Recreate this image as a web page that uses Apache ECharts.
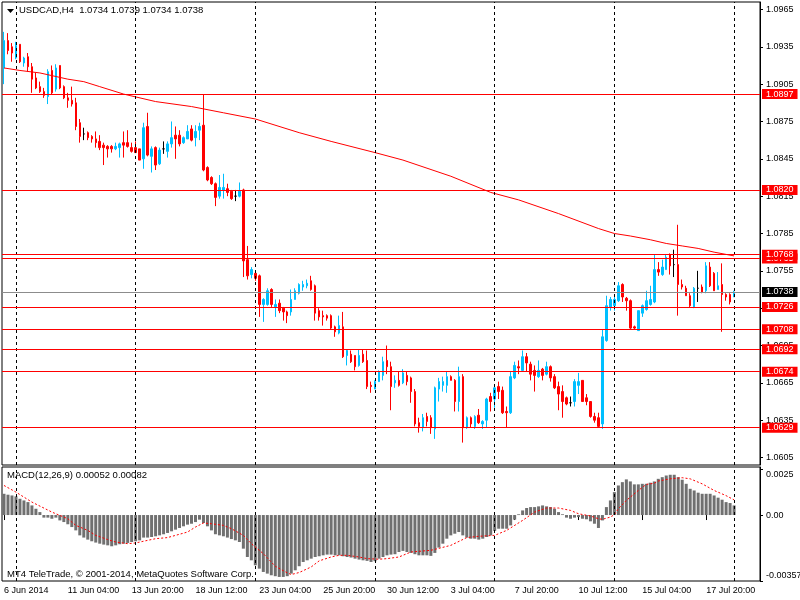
<!DOCTYPE html>
<html>
<head>
<meta charset="utf-8">
<script src="https://cdn.jsdelivr.net/npm/echarts@6/dist/echarts.min.js"></script>
<style>
  html, body { margin: 0; padding: 0; background: #fff; }
  #chart { width: 800px; height: 600px; }
</style>
</head>
<body>
<div id="chart"></div>
<script>
// --- data ---

// one row per H4 bar, first bar 6 Jun 12:00: [open, close, low, high]
const candles = [
  [1.0918,1.0940,1.0905,1.0947],[1.0940,1.0932,1.0929,1.0946],[1.0935,1.0930,1.0923,1.0938],[1.0926,1.0936,1.0925,1.0939],
  [1.0937,1.0923,1.0922,1.0937],[1.0922,1.0926,1.0919,1.0927],[1.0927,1.0919,1.0915,1.0930],[1.0919,1.0909,1.0898,1.0922],
  [1.0910,1.0902,1.0901,1.0914],[1.0903,1.0899,1.0898,1.0907],[1.0899,1.0896,1.0894,1.0902],[1.0895,1.0915,1.0889,1.0917],
  [1.0916,1.0898,1.0897,1.0920],[1.0901,1.0918,1.0899,1.0921],[1.0920,1.0902,1.0901,1.0920],[1.0903,1.0894,1.0893,1.0904],
  [1.0894,1.0892,1.0886,1.0898],[1.0892,1.0889,1.0887,1.0903],[1.0890,1.0871,1.0868,1.0894],[1.0874,1.0863,1.0858,1.0877],
  [1.0865,1.0865,1.0860,1.0870],[1.0866,1.0862,1.0860,1.0867],[1.0863,1.0861,1.0858,1.0864],[1.0861,1.0858,1.0854,1.0867],
  [1.0859,1.0854,1.0852,1.0864],[1.0856,1.0854,1.0840,1.0858],[1.0855,1.0853,1.0846,1.0856],[1.0855,1.0853,1.0850,1.0856],
  [1.0853,1.0855,1.0852,1.0858],[1.0854,1.0857,1.0846,1.0858],[1.0858,1.0856,1.0846,1.0867],[1.0858,1.0855,1.0854,1.0868],
  [1.0854,1.0851,1.0850,1.0858],[1.0854,1.0850,1.0850,1.0859],[1.0853,1.0844,1.0844,1.0853],[1.0845,1.0870,1.0837,1.0874],
  [1.0871,1.0848,1.0847,1.0882],[1.0847,1.0853,1.0834,1.0855],[1.0854,1.0840,1.0836,1.0855],[1.0841,1.0852,1.0840,1.0854],
  [1.0853,1.0853,1.0849,1.0859],[1.0851,1.0857,1.0846,1.0859],[1.0857,1.0862,1.0854,1.0875],[1.0864,1.0861,1.0845,1.0871],
  [1.0864,1.0857,1.0855,1.0868],[1.0858,1.0862,1.0857,1.0863],[1.0861,1.0867,1.0861,1.0872],[1.0869,1.0860,1.0859,1.0872],
  [1.0862,1.0867,1.0855,1.0872],[1.0868,1.0871,1.0860,1.0874],[1.0872,1.0836,1.0835,1.0897],[1.0838,1.0828,1.0827,1.0839],
  [1.0830,1.0825,1.0824,1.0831],[1.0825,1.0814,1.0807,1.0826],[1.0815,1.0822,1.0813,1.0832],[1.0820,1.0822,1.0813,1.0833],
  [1.0821,1.0818,1.0815,1.0825],[1.0819,1.0813,1.0812,1.0820],[1.0815,1.0815,1.0811,1.0820],[1.0815,1.0819,1.0814,1.0826],
  [1.0820,1.0763,1.0750,1.0821],[1.0764,1.0751,1.0748,1.0775],[1.0752,1.0756,1.0749,1.0758],[1.0753,1.0749,1.0747,1.0754],
  [1.0751,1.0728,1.0718,1.0752],[1.0728,1.0732,1.0714,1.0733],[1.0728,1.0739,1.0727,1.0741],[1.0740,1.0728,1.0726,1.0741],
  [1.0726,1.0728,1.0718,1.0732],[1.0729,1.0723,1.0721,1.0732],[1.0725,1.0722,1.0715,1.0726],[1.0722,1.0719,1.0713,1.0723],
  [1.0722,1.0732,1.0719,1.0740],[1.0732,1.0739,1.0732,1.0741],[1.0737,1.0744,1.0736,1.0745],[1.0742,1.0744,1.0739,1.0747],
  [1.0743,1.0745,1.0741,1.0748],[1.0747,1.0740,1.0739,1.0751],[1.0743,1.0721,1.0715,1.0744],[1.0723,1.0718,1.0715,1.0725],
  [1.0719,1.0718,1.0711,1.0723],[1.0719,1.0717,1.0715,1.0720],[1.0719,1.0709,1.0708,1.0720],[1.0710,1.0706,1.0702,1.0711],
  [1.0705,1.0711,1.0704,1.0719],[1.0710,1.0686,1.0685,1.0722],[1.0687,1.0691,1.0679,1.0692],[1.0688,1.0682,1.0681,1.0691],
  [1.0687,1.0678,1.0675,1.0687],[1.0679,1.0687,1.0678,1.0692],[1.0688,1.0682,1.0681,1.0692],[1.0683,1.0662,1.0660,1.0691],
  [1.0663,1.0662,1.0657,1.0666],[1.0660,1.0666,1.0660,1.0667],[1.0666,1.0674,1.0666,1.0675],[1.0671,1.0682,1.0667,1.0686],
  [1.0683,1.0678,1.0672,1.0695],[1.0678,1.0662,1.0643,1.0682],[1.0665,1.0667,1.0661,1.0671],[1.0667,1.0663,1.0662,1.0674],
  [1.0665,1.0673,1.0664,1.0676],[1.0671,1.0666,1.0663,1.0674],[1.0669,1.0658,1.0649,1.0670],[1.0658,1.0632,1.0630,1.0660],
  [1.0633,1.0630,1.0625,1.0637],[1.0629,1.0637,1.0626,1.0640],[1.0638,1.0634,1.0630,1.0641],[1.0637,1.0629,1.0624,1.0639],
  [1.0628,1.0661,1.0620,1.0662],[1.0660,1.0666,1.0650,1.0669],[1.0663,1.0666,1.0658,1.0670],[1.0663,1.0670,1.0657,1.0674],
  [1.0670,1.0667,1.0667,1.0671],[1.0667,1.0650,1.0642,1.0668],[1.0650,1.0670,1.0642,1.0678],[1.0670,1.0629,1.0617,1.0672],
  [1.0629,1.0637,1.0628,1.0638],[1.0637,1.0632,1.0629,1.0638],[1.0630,1.0638,1.0628,1.0639],[1.0639,1.0633,1.0632,1.0644],
  [1.0632,1.0634,1.0628,1.0635],[1.0635,1.0652,1.0629,1.0653],[1.0654,1.0650,1.0642,1.0657],[1.0652,1.0661,1.0645,1.0662],
  [1.0662,1.0658,1.0652,1.0666],[1.0659,1.0641,1.0640,1.0662],[1.0642,1.0641,1.0629,1.0646],[1.0641,1.0670,1.0640,1.0674],
  [1.0669,1.0679,1.0668,1.0682],[1.0678,1.0677,1.0672,1.0683],[1.0675,1.0686,1.0675,1.0691],[1.0686,1.0681,1.0674,1.0689],
  [1.0680,1.0672,1.0667,1.0682],[1.0675,1.0671,1.0658,1.0679],[1.0670,1.0675,1.0669,1.0683],[1.0676,1.0671,1.0667,1.0677],
  [1.0672,1.0678,1.0671,1.0682],[1.0678,1.0669,1.0666,1.0679],[1.0670,1.0661,1.0660,1.0672],[1.0662,1.0656,1.0643,1.0666],
  [1.0658,1.0650,1.0637,1.0663],[1.0653,1.0648,1.0647,1.0654],[1.0649,1.0649,1.0646,1.0654],[1.0650,1.0666,1.0646,1.0668],
  [1.0663,1.0666,1.0656,1.0673],[1.0667,1.0650,1.0650,1.0667],[1.0653,1.0650,1.0647,1.0656],[1.0650,1.0638,1.0637,1.0650],
  [1.0638,1.0635,1.0633,1.0641],[1.0637,1.0630,1.0629,1.0641],[1.0632,1.0702,1.0628,1.0708],[1.0699,1.0727,1.0698,1.0735],
  [1.0726,1.0732,1.0723,1.0734],[1.0727,1.0732,1.0723,1.0734],[1.0731,1.0743,1.0730,1.0746],[1.0744,1.0734,1.0730,1.0745],
  [1.0733,1.0731,1.0723,1.0734],[1.0731,1.0709,1.0708,1.0732],[1.0710,1.0709,1.0708,1.0711],[1.0707,1.0723,1.0707,1.0723],
  [1.0721,1.0727,1.0718,1.0728],[1.0724,1.0731,1.0723,1.0739],[1.0728,1.0732,1.0727,1.0743],[1.0730,1.0756,1.0729,1.0768],
  [1.0756,1.0754,1.0751,1.0762],[1.0752,1.0758,1.0751,1.0764],[1.0756,1.0766,1.0756,1.0768],[1.0768,1.0759,1.0752,1.0769],
  [1.0760,1.0760,1.0750,1.0772],[1.0760,1.0744,1.0719,1.0792],[1.0744,1.0742,1.0740,1.0748],[1.0741,1.0735,1.0735,1.0743],
  [1.0735,1.0727,1.0726,1.0737],[1.0726,1.0741,1.0725,1.0742],[1.0741,1.0741,1.0730,1.0755],[1.0742,1.0738,1.0737,1.0744],
  [1.0739,1.0759,1.0737,1.0762],[1.0758,1.0743,1.0742,1.0762],[1.0753,1.0739,1.0739,1.0754],[1.0740,1.0743,1.0740,1.0754],
  [1.0744,1.0736,1.0706,1.0761],[1.0736,1.0734,1.0731,1.0737],[1.0736,1.0730,1.0728,1.0737],[1.0734,1.0738,1.0734,1.0739]
];

// red moving average, read at some bars: [bar, price]
const maLine = [
  [0,1.0918],[4,1.0916],[9,1.0914],[16,1.0909],[20,1.0907],[24,1.0903],[30,1.0897],[38,1.0891],[47,1.0887],
  [55,1.0882],[63,1.0877],[74,1.0866],[82,1.0859],[93,1.0850],[100,1.0844],[112,1.0831],[122,1.0818],[129,1.0812],
  [139,1.0801],[149,1.0789],[153,1.0785],[157,1.0783],[162,1.0780],[166,1.0777],[170,1.0775],[174,1.0773],[178,1.0770],[183,1.0767]
];

// MACD(12,26,9) histogram, one value per bar
const macdHist = [
  0.00115,0.00110,0.00106,0.00101,0.00088,0.00079,0.00070,0.00052,0.00034,0.00016,
  -0.00014,-0.00014,-0.00020,-0.00014,-0.00029,-0.00038,-0.00050,-0.00065,-0.00083,-0.00110,
  -0.00122,-0.00133,-0.00142,-0.00149,-0.00155,-0.00160,-0.00164,-0.00169,-0.00164,-0.00158,
  -0.00155,-0.00151,-0.00146,-0.00142,-0.00137,-0.00122,-0.00122,-0.00119,-0.00115,-0.00110,
  -0.00104,-0.00097,-0.00088,-0.00079,-0.00070,-0.00061,-0.00052,-0.00047,-0.00038,-0.00025,
  -0.00043,-0.00061,-0.00083,-0.00104,-0.00110,-0.00115,-0.00122,-0.00130,-0.00137,-0.00146,
  -0.00182,-0.00227,-0.00245,-0.00272,-0.00290,-0.00308,-0.00317,-0.00326,-0.00331,-0.00335,
  -0.00335,-0.00331,-0.00317,-0.00299,-0.00277,-0.00254,-0.00245,-0.00236,-0.00227,-0.00223,
  -0.00218,-0.00214,-0.00214,-0.00218,-0.00218,-0.00223,-0.00227,-0.00230,-0.00236,-0.00241,
  -0.00245,-0.00248,-0.00254,-0.00250,-0.00236,-0.00227,-0.00218,-0.00214,-0.00212,-0.00200,
  -0.00194,-0.00200,-0.00205,-0.00212,-0.00218,-0.00218,-0.00218,-0.00221,-0.00205,-0.00176,
  -0.00155,-0.00128,-0.00110,-0.00101,-0.00092,-0.00110,-0.00122,-0.00128,-0.00128,-0.00133,
  -0.00128,-0.00119,-0.00110,-0.00086,-0.00074,-0.00074,-0.00074,-0.00056,-0.00025,0.00004,
  0.00025,0.00038,0.00043,0.00043,0.00047,0.00052,0.00047,0.00043,0.00034,0.00016,
  0.00004,-0.00014,-0.00020,-0.00014,-0.00011,-0.00020,-0.00023,-0.00034,-0.00047,-0.00070,
  -0.00029,0.00043,0.00079,0.00124,0.00160,0.00178,0.00193,0.00182,0.00166,0.00166,
  0.00169,0.00169,0.00175,0.00182,0.00196,0.00205,0.00214,0.00218,0.00218,0.00205,
  0.00191,0.00169,0.00142,0.00133,0.00121,0.00115,0.00115,0.00115,0.00106,0.00094,
  0.00083,0.00070,0.00065,0.00052
];

// MACD signal line, read at some bars: [bar, value]
const macdSignal = [
  [0,0.00160],[3,0.00124],[7,0.00070],[12,0.00016],[14,-0.00002],[16,-0.00020],[18,-0.00056],[21,-0.00083],
  [23,-0.00110],[26,-0.00133],[28,-0.00146],[31,-0.00155],[33,-0.00151],[36,-0.00137],[38,-0.00128],[41,-0.00122],
  [43,-0.00110],[46,-0.00092],[48,-0.00065],[50,-0.00043],[52,-0.00047],[55,-0.00056],[57,-0.00074],[60,-0.00110],
  [62,-0.00155],[65,-0.00209],[68,-0.00277],[71,-0.00313],[72,-0.00322],[74,-0.00311],[77,-0.00281],[79,-0.00248],
  [82,-0.00227],[84,-0.00218],[86,-0.00218],[89,-0.00227],[91,-0.00236],[94,-0.00239],[96,-0.00236],[99,-0.00227],
  [102,-0.00200],[107,-0.00191],[112,-0.00164],[116,-0.00122],[119,-0.00115],[123,-0.00110],[126,-0.00083],
  [130,-0.00029],[133,0.00016],[136,0.00038],[139,0.00038],[142,0.00025],[144,0.00007],[147,-0.00005],
  [149,-0.00020],[150,-0.00023],[152,-0.00011],[153,0.00002],[154,0.00034],[156,0.00079],[159,0.00133],
  [161,0.00166],[163,0.00172],[164,0.00184],[167,0.00196],[170,0.00202],[172,0.00196],[175,0.00169],
  [178,0.00133],[181,0.00105],[183,0.00082]
];

// horizontal levels drawn on the chart
const levels = [1.0897, 1.0820, 1.0765, 1.0768, 1.0726, 1.0708, 1.0692, 1.0674, 1.0629];
const lastPrice = 1.0738;

// axis ticks
const priceTicks = [1.0965, 1.0935, 1.0905, 1.0875, 1.0845, 1.0815, 1.0785, 1.0755, 1.0725, 1.0695, 1.0665, 1.0635, 1.0605];
const macdTicks = [0.0025, 0, -0.00357];
const macdTickText = ['0.0025', '0.00', '-0.00357'];
const timeTicks = [
  [0, '6 Jun 2014'], [16, '11 Jun 04:00'], [32, '13 Jun 20:00'], [48, '18 Jun 12:00'],
  [64, '23 Jun 04:00'], [80, '25 Jun 20:00'], [96, '30 Jun 12:00'], [112, '3 Jul 04:00'],
  [128, '7 Jul 20:00'], [144, '10 Jul 12:00'], [160, '15 Jul 04:00'], [176, '17 Jul 20:00']
];
const weekLines = [3, 33, 63, 93, 123, 153, 183];

// --- chart ---
const FONT = '"Liberation Sans", Arial, sans-serif';
const BULL = '#00bfff';
const BEAR = '#ff0000';

// 184 bars plus empty room on the right, like the terminal shift
const slots = Array.from({ length: 190 }, (_, i) => String(i));
const timeLabel = Object.fromEntries(timeTicks);
const isTimeTick = (i) => timeLabel[i] !== undefined;

const candleData = candles.map(c => c[0] === c[1]
  ? { value: c, itemStyle: { color: '#000', color0: '#000', borderColor: '#000', borderColor0: '#000' } }
  : c);

// a price line across the main pane with its tag on the axis side
function priceLine(values, color, tagColor) {
  return {
    type: 'line', xAxisIndex: 0, yAxisIndex: 0, data: [], z: 5,
    color: color, itemStyle: { color: color }, lineStyle: { color: color },
    markLine: {
      silent: true, symbol: ['none', 'none'], animation: false, precision: 5,
      itemStyle: { color: color },
      lineStyle: { color: color, type: 'solid', width: 1, opacity: 1 },
      label: {
        show: true, position: 'end', distance: 2,
        formatter: p => Number(p.value).toFixed(4),
        color: '#fff', backgroundColor: tagColor, padding: [1, 4, 0, 4],
        fontFamily: FONT, fontSize: 9
      },
      data: values.map(v => ({ yAxis: v }))
    }
  };
}

function weekMarks(grid) {
  return {
    type: 'line', xAxisIndex: grid, yAxisIndex: grid, data: [], z: 1,
    color: '#000', itemStyle: { color: '#000' },
    markLine: {
      silent: true, symbol: ['none', 'none'], animation: false,
      label: { show: false },
      itemStyle: { color: '#000' },
      lineStyle: { color: '#000', type: [3, 3], width: 1 },
      data: weekLines.map(i => ({ xAxis: i }))
    }
  };
}

const chart = echarts.init(document.getElementById('chart'));
chart.setOption({
  animation: false,
  backgroundColor: '#fff',
  textStyle: { fontFamily: FONT, fontSize: 9, color: '#000' },
  grid: [
    { left: 2, top: 2, width: 758, height: 463, show: true, borderColor: '#000', borderWidth: 1,
      backgroundColor: '#fff', outerBoundsMode: 'none', containLabel: false },
    { left: 2, top: 467, width: 758, height: 114, show: true, borderColor: '#000', borderWidth: 1,
      backgroundColor: '#fff', outerBoundsMode: 'none', containLabel: false }
  ],
  xAxis: [
    {
      type: 'category', gridIndex: 0, data: slots, boundaryGap: true,
      axisLine: { show: false }, axisTick: { show: false }, axisLabel: { show: false }, splitLine: { show: false }
    },
    {
      type: 'category', gridIndex: 1, data: slots, boundaryGap: true,
      axisLine: { show: false },
      axisTick: { show: true, alignWithLabel: true, interval: isTimeTick, length: 5, lineStyle: { color: '#000' } },
      axisLabel: {
        interval: isTimeTick, formatter: (v, i) => timeLabel[i] || '',
        align: 'left', margin: 5, color: '#000', fontFamily: FONT, fontSize: 9
      },
      splitLine: { show: false }
    }
  ],
  yAxis: [
    {
      type: 'value', gridIndex: 0, position: 'right', min: 1.0599, max: 1.0971,
      axisLine: { show: true, lineStyle: { color: '#000' } },
      axisTick: { show: true, length: 3, customValues: priceTicks, lineStyle: { color: '#000' } },
      axisLabel: { customValues: priceTicks, formatter: v => v.toFixed(4), margin: 6, color: '#000', fontFamily: FONT, fontSize: 9 },
      splitLine: { show: false }
    },
    {
      type: 'value', gridIndex: 1, position: 'right', min: -0.00357, max: 0.0026,
      axisLine: { show: true, lineStyle: { color: '#000' } },
      axisTick: { show: true, length: 3, customValues: macdTicks, lineStyle: { color: '#000' } },
      axisLabel: {
        customValues: macdTicks, margin: 6, color: '#000', fontFamily: FONT, fontSize: 9,
        formatter: v => {
          const k = macdTicks.indexOf(v);
          if (k === 0) return '{t|' + macdTickText[k] + '}';
          if (k === 2) return '{b|' + macdTickText[k] + '}';
          return macdTickText[k] || '';
        },
        rich: {
          t: { padding: [12, 0, 0, 0], fontFamily: FONT, fontSize: 9, color: '#000' },
          b: { padding: [0, 0, 10, 0], fontFamily: FONT, fontSize: 9, color: '#000' }
        }
      },
      splitLine: { show: false }
    }
  ],
  series: [
    weekMarks(0),
    weekMarks(1),
    {
      type: 'candlestick', xAxisIndex: 0, yAxisIndex: 0, data: candleData,
      barWidth: 2, z: 3,
      itemStyle: { color: BULL, color0: BEAR, borderColor: BULL, borderColor0: BEAR, borderWidth: 1 },
      emphasis: { disabled: true }
    },
    priceLine([lastPrice], '#8c8c8c', '#000'),
    priceLine(levels, '#ff0000', '#ff0000'),
    {
      type: 'line', xAxisIndex: 0, yAxisIndex: 0, data: maLine, z: 4,
      symbol: 'none', silent: true, color: '#ff0000',
      lineStyle: { color: '#ff0000', width: 1 }
    },
    {
      type: 'bar', xAxisIndex: 1, yAxisIndex: 1, data: macdHist, z: 3,
      barWidth: 3, silent: true,
      itemStyle: { color: '#707070' }
    },
    {
      type: 'line', xAxisIndex: 1, yAxisIndex: 1, data: macdSignal, z: 4,
      symbol: 'none', silent: true, color: '#ff0000',
      lineStyle: { color: '#ff0000', width: 1, type: [2, 2] }
    }
  ],
  graphic: [
    { type: 'polygon', shape: { points: [[7, 9], [14, 9], [10.5, 13]] }, style: { fill: '#000' } },
    {
      type: 'text', left: 19, top: 5,
      style: { text: 'USDCAD,H4  1.0734 1.0739 1.0734 1.0738', font: '9.5px ' + FONT, fill: '#000' }
    },
    {
      type: 'text', left: 7, top: 470,
      style: { text: 'MACD(12,26,9) 0.00052 0.00082', font: '9.5px ' + FONT, fill: '#000' }
    },
    {
      type: 'text', left: 7, top: 569,
      style: { text: 'MT4 TeleTrade, © 2001-2014, MetaQuotes Software Corp.', font: '9.5px ' + FONT, fill: '#000' }
    }
  ]
});
</script>
</body>
</html>
